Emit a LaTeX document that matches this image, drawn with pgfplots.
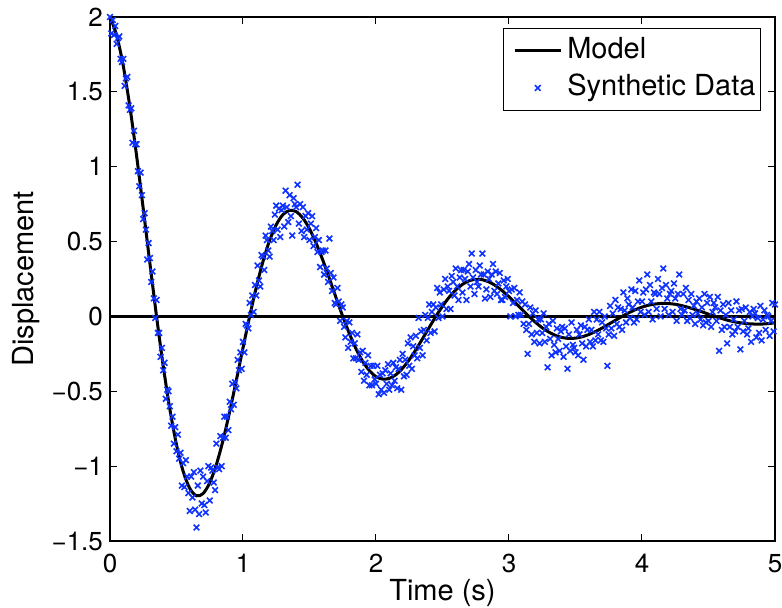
\documentclass[border=0pt]{standalone}
\usepackage{fontspec}
\setmainfont{TeX Gyre Heros}
\usepackage{pgfplots}
\pgfplotsset{compat=1.18}
\definecolor{mblue}{RGB}{15,50,255}

\begin{document}
\begin{tikzpicture}
\begin{axis}[
  scale only axis,
  width=332.5pt, height=262pt,
  xmin=0, xmax=5, ymin=-1.5, ymax=2,
  xtick={0,1,2,3,4,5},
  xticklabels={0,1,2,3,4,5},
  ytick={-1.5,-1,-0.5,0,0.5,1,1.5,2},
  yticklabels={−1.5,−1,−0.5,0,0.5,1,1.5,2},
  tick align=inside,
  major tick length=3.5pt,
  axis line style={line width=0.6pt},
  tick style={black,line width=0.5pt},
  ticklabel style={font=\fontsize{13}{15}\selectfont},
  xticklabel style={anchor=base,yshift=-16pt},
  label style={font=\fontsize{14.5}{17}\selectfont},
  xlabel={Time (s)},
  ylabel={Displacement},
  xlabel style={at={(axis description cs:0.5,-0.1145)},anchor=base},
  ylabel style={at={(axis description cs:-0.1143,0.5)},anchor=base},
  legend style={at={(axis description cs:1,1)},anchor=north east,
    xshift=-7pt,yshift=-5.5pt,draw=black,line width=0.5pt,
    font=\fontsize{14.5}{17}\selectfont,inner xsep=0pt,inner ysep=2pt,
    nodes={inner xsep=2.5pt,inner ysep=2.5pt,text height=10.5pt,text depth=3pt},
    cells={anchor=west}},
  legend image code/.code={\path (0pt,0pt);
    \draw[mark repeat=2,mark phase=2,#1] plot coordinates {(5pt,0pt) (16.5pt,0pt) (28pt,0pt)};},
]
% model curve
\addplot[black,line width=1.5pt,smooth] coordinates {
(0,2.000) (0.05,1.878) (0.1,1.672) (0.15,1.397) (0.2,1.073) (0.25,0.719) (0.3,0.355) (0.35,0)
(0.4,-0.330) (0.45,-0.619) (0.5,-0.857) (0.55,-1.035) (0.6,-1.149) (0.65,-1.198) (0.7,-1.183)
(0.75,-1.111) (0.8,-0.989) (0.85,-0.827) (0.9,-0.635) (0.95,-0.426) (1,-0.210) (1.05,0)
(1.1,0.195) (1.15,0.366) (1.2,0.507) (1.25,0.612) (1.3,0.680) (1.35,0.708) (1.4,0.700)
(1.45,0.657) (1.5,0.585) (1.55,0.489) (1.6,0.376) (1.65,0.252) (1.7,0.124) (1.75,0)
(1.8,-0.115) (1.85,-0.217) (1.9,-0.300) (1.95,-0.362) (2,-0.402) (2.05,-0.419) (2.1,-0.414)
(2.15,-0.389) (2.2,-0.346) (2.25,-0.289) (2.3,-0.222) (2.35,-0.149) (2.4,-0.074) (2.45,0)
(2.5,0.068) (2.55,0.128) (2.6,0.177) (2.65,0.214) (2.7,0.238) (2.75,0.248) (2.8,0.245)
(2.85,0.230) (2.9,0.205) (2.95,0.171) (3,0.131) (3.05,0.088) (3.1,0.044) (3.15,0)
(3.2,-0.040) (3.25,-0.076) (3.3,-0.105) (3.35,-0.127) (3.4,-0.141) (3.45,-0.147) (3.5,-0.145)
(3.55,-0.136) (3.6,-0.121) (3.65,-0.101) (3.7,-0.078) (3.75,-0.052) (3.8,-0.026) (3.85,0)
(3.9,0.024) (3.95,0.045) (4,0.062) (4.05,0.075) (4.1,0.083) (4.15,0.087) (4.2,0.086)
(4.25,0.081) (4.3,0.072) (4.35,0.060) (4.4,0.046) (4.45,0.031) (4.5,0.015) (4.55,0)
(4.6,-0.014) (4.65,-0.027) (4.7,-0.037) (4.75,-0.044) (4.8,-0.049) (4.85,-0.051) (4.9,-0.051)
(4.95,-0.048) (5,-0.042)};
\addlegendentry{Model}
% noisy samples
\addplot[only marks,mark=x,mark size=2pt,color=mblue,mark options={line width=0.8pt}]
table[row sep=\\] {t y\\
0.00 2.00\\ 0.01 1.89\\ 0.02 1.98\\ 0.03 1.88\\ 0.04 1.94\\
0.05 1.82\\ 0.06 1.86\\ 0.07 1.87\\ 0.08 1.72\\ 0.09 1.70\\
0.10 1.72\\ 0.11 1.54\\ 0.12 1.59\\ 0.13 1.60\\ 0.14 1.41\\
0.15 1.38\\ 0.16 1.39\\ 0.17 1.16\\ 0.18 1.24\\ 0.19 1.15\\
0.20 1.15\\ 0.21 0.97\\ 0.22 0.87\\ 0.23 0.96\\ 0.24 0.81\\
0.25 0.65\\ 0.26 0.69\\ 0.27 0.58\\ 0.28 0.38\\ 0.29 0.49\\
0.30 0.39\\ 0.31 0.23\\ 0.32 0.30\\ 0.33 0.12\\ 0.34 -0.01\\
0.35 0.11\\ 0.36 -0.11\\ 0.37 -0.11\\ 0.38 -0.27\\ 0.39 -0.21\\
0.40 -0.36\\ 0.41 -0.31\\ 0.42 -0.55\\ 0.43 -0.49\\ 0.44 -0.50\\
0.45 -0.60\\ 0.46 -0.73\\ 0.47 -0.67\\ 0.48 -0.85\\ 0.49 -0.74\\
0.50 -0.90\\ 0.51 -0.79\\ 0.52 -0.95\\ 0.53 -0.91\\ 0.54 -1.13\\
0.55 -0.98\\ 0.56 -1.14\\ 0.57 -0.96\\ 0.58 -1.07\\ 0.59 -1.18\\
0.60 -1.30\\ 0.61 -1.07\\ 0.62 -1.21\\ 0.63 -1.04\\ 0.64 -1.29\\
0.65 -1.41\\ 0.66 -1.13\\ 0.67 -1.32\\ 0.68 -1.03\\ 0.69 -1.25\\
0.70 -1.07\\ 0.71 -1.26\\ 0.72 -1.31\\ 0.73 -1.10\\ 0.74 -1.00\\
0.75 -1.23\\ 0.76 -1.01\\ 0.77 -1.03\\ 0.78 -1.11\\ 0.79 -1.16\\
0.80 -0.85\\ 0.81 -1.01\\ 0.82 -1.02\\ 0.83 -0.80\\ 0.84 -1.00\\
0.85 -0.81\\ 0.86 -0.67\\ 0.87 -0.81\\ 0.88 -0.67\\ 0.89 -0.76\\
0.90 -0.57\\ 0.91 -0.62\\ 0.92 -0.45\\ 0.93 -0.59\\ 0.94 -0.44\\
0.95 -0.48\\ 0.96 -0.29\\ 0.97 -0.36\\ 0.98 -0.24\\ 0.99 -0.35\\
1.00 -0.17\\ 1.01 -0.24\\ 1.02 -0.05\\ 1.03 -0.06\\ 1.04 -0.08\\
1.05 0.09\\ 1.06 0.01\\ 1.07 0.14\\ 1.08 0.03\\ 1.09 0.21\\
1.10 0.14\\ 1.11 0.34\\ 1.12 0.24\\ 1.13 0.20\\ 1.14 0.41\\
1.15 0.40\\ 1.16 0.31\\ 1.17 0.54\\ 1.18 0.51\\ 1.19 0.44\\
1.20 0.40\\ 1.21 0.60\\ 1.22 0.57\\ 1.23 0.51\\ 1.24 0.68\\
1.25 0.74\\ 1.26 0.58\\ 1.27 0.72\\ 1.28 0.53\\ 1.29 0.71\\
1.30 0.74\\ 1.31 0.60\\ 1.32 0.84\\ 1.33 0.73\\ 1.34 0.63\\
1.35 0.81\\ 1.36 0.67\\ 1.37 0.54\\ 1.38 0.79\\ 1.39 0.75\\
1.40 0.73\\ 1.41 0.88\\ 1.42 0.62\\ 1.43 0.75\\ 1.44 0.57\\
1.45 0.73\\ 1.46 0.53\\ 1.47 0.67\\ 1.48 0.58\\ 1.49 0.69\\
1.50 0.51\\ 1.51 0.62\\ 1.52 0.67\\ 1.53 0.47\\ 1.54 0.53\\
1.55 0.59\\ 1.56 0.43\\ 1.57 0.51\\ 1.58 0.33\\ 1.59 0.43\\
1.60 0.44\\ 1.61 0.28\\ 1.62 0.44\\ 1.63 0.32\\ 1.64 0.23\\
1.65 0.52\\ 1.66 0.29\\ 1.67 0.17\\ 1.68 0.26\\ 1.69 0.09\\
1.70 0.08\\ 1.71 0.19\\ 1.72 0.10\\ 1.73 -0.03\\ 1.74 0.08\\
1.75 0.06\\ 1.76 -0.07\\ 1.77 -0.14\\ 1.78 -0.03\\ 1.79 -0.21\\
1.80 -0.04\\ 1.81 -0.17\\ 1.82 -0.11\\ 1.83 -0.28\\ 1.84 -0.18\\
1.85 -0.28\\ 1.86 -0.12\\ 1.87 -0.29\\ 1.88 -0.24\\ 1.89 -0.37\\
1.90 -0.23\\ 1.91 -0.43\\ 1.92 -0.31\\ 1.93 -0.39\\ 1.94 -0.26\\
1.95 -0.46\\ 1.96 -0.33\\ 1.97 -0.46\\ 1.98 -0.33\\ 1.99 -0.42\\
2.00 -0.45\\ 2.01 -0.33\\ 2.02 -0.52\\ 2.03 -0.39\\ 2.04 -0.49\\
2.05 -0.38\\ 2.06 -0.51\\ 2.07 -0.36\\ 2.08 -0.45\\ 2.09 -0.32\\
2.10 -0.49\\ 2.11 -0.38\\ 2.12 -0.46\\ 2.13 -0.31\\ 2.14 -0.43\\
2.15 -0.34\\ 2.16 -0.48\\ 2.17 -0.35\\ 2.18 -0.29\\ 2.19 -0.49\\
2.20 -0.25\\ 2.21 -0.40\\ 2.22 -0.29\\ 2.23 -0.39\\ 2.24 -0.18\\
2.25 -0.33\\ 2.26 -0.14\\ 2.27 -0.35\\ 2.28 -0.20\\ 2.29 -0.26\\
2.30 -0.13\\ 2.31 -0.28\\ 2.32 -0.01\\ 2.33 -0.21\\ 2.34 -0.10\\
2.35 -0.26\\ 2.36 -0.09\\ 2.37 0.01\\ 2.38 -0.16\\ 2.39 -0.01\\
2.40 0.08\\ 2.41 -0.11\\ 2.42 0.03\\ 2.43 0.08\\ 2.44 -0.10\\
2.45 0.06\\ 2.46 0.19\\ 2.47 -0.01\\ 2.48 0.16\\ 2.49 0.08\\
2.50 0.00\\ 2.51 0.18\\ 2.52 0.25\\ 2.53 0.05\\ 2.54 0.20\\
2.55 0.17\\ 2.56 0.05\\ 2.57 0.27\\ 2.58 0.23\\ 2.59 0.14\\
2.60 0.32\\ 2.61 0.20\\ 2.62 0.11\\ 2.63 0.26\\ 2.64 0.31\\
2.65 0.16\\ 2.66 0.31\\ 2.67 0.25\\ 2.68 0.11\\ 2.69 0.30\\
2.70 0.35\\ 2.71 0.20\\ 2.72 0.42\\ 2.73 0.26\\ 2.74 0.15\\
2.75 0.31\\ 2.76 0.23\\ 2.77 0.20\\ 2.78 0.34\\ 2.79 0.28\\
2.80 0.42\\ 2.81 0.28\\ 2.82 0.12\\ 2.83 0.18\\ 2.84 0.30\\
2.85 0.25\\ 2.86 0.13\\ 2.87 0.28\\ 2.88 0.35\\ 2.89 0.17\\
2.90 0.30\\ 2.91 0.15\\ 2.92 0.22\\ 2.93 0.29\\ 2.94 0.11\\
2.95 0.11\\ 2.96 0.24\\ 2.97 0.13\\ 2.98 0.20\\ 2.99 0.25\\
3.00 0.17\\ 3.01 0.00\\ 3.02 0.18\\ 3.03 0.09\\ 3.04 0.19\\
3.05 0.00\\ 3.06 0.11\\ 3.07 0.01\\ 3.08 0.16\\ 3.09 0.01\\
3.10 0.10\\ 3.11 -0.05\\ 3.12 0.08\\ 3.13 -0.09\\ 3.14 -0.25\\
3.15 -0.05\\ 3.16 0.06\\ 3.17 -0.12\\ 3.18 0.02\\ 3.19 -0.17\\
3.20 0.04\\ 3.21 -0.11\\ 3.22 -0.02\\ 3.23 -0.18\\ 3.24 -0.02\\
3.25 -0.11\\ 3.26 0.02\\ 3.27 -0.17\\ 3.28 -0.07\\ 3.29 -0.34\\
3.30 -0.05\\ 3.31 -0.15\\ 3.32 -0.26\\ 3.33 -0.03\\ 3.34 -0.19\\
3.35 -0.24\\ 3.36 -0.08\\ 3.37 -0.15\\ 3.38 -0.23\\ 3.39 -0.10\\
3.40 -0.07\\ 3.41 -0.27\\ 3.42 -0.08\\ 3.43 -0.20\\ 3.44 -0.35\\
3.45 -0.12\\ 3.46 -0.23\\ 3.47 -0.04\\ 3.48 -0.19\\ 3.49 -0.21\\
3.50 -0.24\\ 3.51 -0.09\\ 3.52 -0.26\\ 3.53 -0.12\\ 3.54 -0.06\\
3.55 -0.18\\ 3.56 -0.29\\ 3.57 -0.07\\ 3.58 -0.20\\ 3.59 -0.09\\
3.60 -0.02\\ 3.61 -0.17\\ 3.62 -0.09\\ 3.63 -0.20\\ 3.64 0.03\\
3.65 -0.16\\ 3.66 -0.02\\ 3.67 -0.12\\ 3.68 0.03\\ 3.69 -0.16\\
3.70 -0.04\\ 3.71 -0.17\\ 3.72 0.00\\ 3.73 -0.08\\ 3.74 -0.33\\
3.75 -0.12\\ 3.76 0.07\\ 3.77 -0.08\\ 3.78 0.02\\ 3.79 -0.13\\
3.80 0.11\\ 3.81 -0.05\\ 3.82 0.06\\ 3.83 -0.07\\ 3.84 0.05\\
3.85 -0.09\\ 3.86 0.16\\ 3.87 0.04\\ 3.88 -0.04\\ 3.89 0.12\\
3.90 0.08\\ 3.91 -0.01\\ 3.92 0.18\\ 3.93 0.06\\ 3.94 -0.04\\
3.95 0.17\\ 3.96 -0.02\\ 3.97 0.10\\ 3.98 0.24\\ 3.99 0.03\\
4.00 0.10\\ 4.01 0.16\\ 4.02 0.01\\ 4.03 0.18\\ 4.04 0.28\\
4.05 0.03\\ 4.06 0.21\\ 4.07 0.10\\ 4.08 -0.02\\ 4.09 0.16\\
4.10 0.15\\ 4.11 0.05\\ 4.12 0.25\\ 4.13 0.15\\ 4.14 0.00\\
4.15 0.19\\ 4.16 0.32\\ 4.17 0.05\\ 4.18 0.21\\ 4.19 0.12\\
4.20 0.01\\ 4.21 0.15\\ 4.22 0.17\\ 4.23 0.03\\ 4.24 0.22\\
4.25 0.12\\ 4.26 -0.03\\ 4.27 0.15\\ 4.28 0.28\\ 4.29 0.05\\
4.30 0.01\\ 4.31 0.15\\ 4.32 0.04\\ 4.33 0.19\\ 4.34 -0.03\\
4.35 0.11\\ 4.36 -0.01\\ 4.37 0.15\\ 4.38 0.01\\ 4.39 0.07\\
4.40 -0.05\\ 4.41 0.10\\ 4.42 0.02\\ 4.43 0.12\\ 4.44 -0.02\\
4.45 0.06\\ 4.46 -0.06\\ 4.47 0.15\\ 4.48 -0.04\\ 4.49 0.09\\
4.50 -0.03\\ 4.51 0.13\\ 4.52 -0.07\\ 4.53 0.03\\ 4.54 0.09\\
4.55 0.06\\ 4.56 -0.03\\ 4.57 0.13\\ 4.58 -0.23\\ 4.59 0.04\\
4.60 -0.09\\ 4.61 0.08\\ 4.62 -0.07\\ 4.63 0.01\\ 4.64 -0.18\\
4.65 0.09\\ 4.66 -0.07\\ 4.67 0.04\\ 4.68 -0.12\\ 4.69 -0.02\\
4.70 -0.10\\ 4.71 0.10\\ 4.72 -0.07\\ 4.73 0.04\\ 4.74 -0.22\\
4.75 0.05\\ 4.76 -0.10\\ 4.77 -0.03\\ 4.78 0.06\\ 4.79 -0.12\\
4.80 -0.08\\ 4.81 0.03\\ 4.82 -0.17\\ 4.83 0.00\\ 4.84 0.05\\
4.85 0.02\\ 4.86 -0.14\\ 4.87 -0.01\\ 4.88 -0.11\\ 4.89 0.07\\
4.90 -0.16\\ 4.91 -0.02\\ 4.92 0.04\\ 4.93 -0.09\\ 4.94 0.01\\
4.95 0.00\\ 4.96 -0.13\\ 4.97 -0.03\\ 4.98 0.09\\ 4.99 -0.10\\
5.00 0.08\\
};
\addlegendentry{Synthetic Data}
% zero reference line
\addplot[black,line width=1.4pt,forget plot] coordinates {(0,0) (5,0)};
\end{axis}
\pgfresetboundingbox
\useasboundingbox ([xshift=-55pt,yshift=-33.5pt]current axis.south west)
  rectangle ([xshift=3.5pt,yshift=8.5pt]current axis.north east);
\end{tikzpicture}
\end{document}
